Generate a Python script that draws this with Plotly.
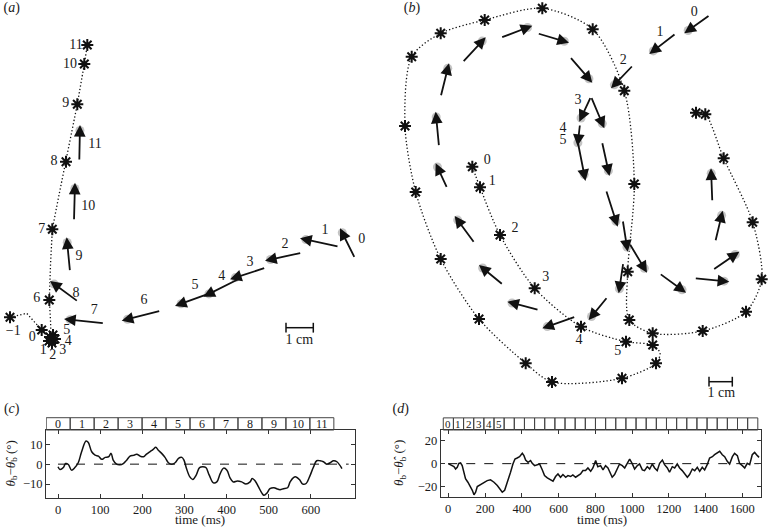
import plotly.graph_objects as go

FONT = "Liberation Serif, Times New Roman, DejaVu Serif, serif"
INK = "#111111"
TXT = "#1a1a1a"

# ---------------- panel (a) ----------------
a_path_x = [10, 26.7, 41.7, 51, 50.5, 49.3, 50.5, 52.3, 59, 66, 72, 77.3, 84.3, 87.3]
a_path_y = [317.3, 313.3, 330, 337, 320, 300, 265, 229.3, 195, 161.7, 133, 104.3, 64, 45]
a_star_x = [10, 41.7, 49, 52, 55, 53, 50, 49.3, 52.3, 66, 77.3, 84.3, 87.3]
a_star_y = [317.3, 330, 341, 343, 339, 335, 337, 300, 229.3, 161.7, 104.3, 64, 45]
a_star_lbl = ["−1", "0", "1", "2", "3", "4", "5", "6", "7", "8", "9", "10", "11"]
a_star_lbl_x = [13.3, 32.3, 43.3, 52.7, 62.7, 68.3, 66.7, 36.7, 41.7, 54, 65.7, 70, 76]
a_star_lbl_y = [331.7, 337.3, 350.7, 355, 350.7, 341, 330, 298.3, 229, 161, 103, 64, 45]
a_arr_tail_x = [355, 339, 301.7, 265.7, 240.7, 216, 160.7, 104.3, 78.3, 70, 74, 79.3]
a_arr_tail_y = [258.3, 246.7, 252.7, 267.7, 278, 291, 310.7, 323.3, 301.7, 271.7, 220.7, 161]
a_arr_head_x = [340, 300, 265, 230, 203.3, 175, 121.7, 64, 50, 66.7, 75, 80]
a_arr_head_y = [228.3, 238.3, 260.7, 279.3, 296.7, 306, 320.7, 319, 281, 237.3, 182.7, 125]
a_arr_lbl = ["0", "1", "2", "3", "4", "5", "6", "7", "8", "9", "10", "11"]
a_arr_lbl_x = [361.7, 325, 285, 250, 221.7, 195, 144, 94.3, 76, 79, 88.3, 95]
a_arr_lbl_y = [239.3, 230, 244.3, 262.3, 276, 285.7, 300.7, 310, 293.3, 256, 206.7, 144]
a_scale_x = [286, 313.3]
a_scale_y = [327.7, 327.7]
a_scale_txt = (299.3, 340.7)

# ---------------- panel (b) ----------------
b_path_x = [472.3, 480, 500, 534.7, 581, 626, 652.7, 660, 656, 622, 552, 525.7, 479, 440.7, 415.7,
            405, 411.7, 440.7, 484.7, 542.3, 592.7, 624.3, 634.3, 627.7, 629.3, 652.7, 702.7, 746,
            761.7, 752.7, 723.7, 705.3, 696]
b_path_y = [166.7, 187.3, 235, 288.3, 326.7, 341.7, 345, 353, 363.3, 378.3, 382, 363.3, 319, 259, 192,
            126, 56.7, 33.3, 20, 8.3, 29.3, 90.7, 184, 271.7, 320, 333.3, 331, 311.7,
            279.3, 222.3, 158.3, 114.3, 112.7]
b_star_x = [472.3, 480, 500, 534.7, 581, 626, 652.7, 652.7, 656, 622, 552, 525.7, 479, 440.7, 415.7,
            405, 411.7, 440.7, 484.7, 542.3, 592.7, 624.3, 634.3, 627.7, 629.3, 702.7, 746,
            761.7, 752.7, 723.7, 705.3, 696]
b_star_y = [166.7, 187.3, 235, 288.3, 326.7, 341.7, 345, 333.3, 363.3, 378.3, 382, 363.3, 319, 259, 192,
            126, 56.7, 33.3, 20, 8.3, 29.3, 90.7, 184, 271.7, 320, 331, 311.7,
            279.3, 222.3, 158.3, 114.3, 112.7]
b_star_lbl = ["0", "1", "2", "3", "4", "5"]
b_star_lbl_x = [487.3, 492.3, 515, 545.7, 579, 617.7]
b_star_lbl_y = [160, 181.7, 228.3, 277.3, 340, 351.7]
b_arr_tail_x = [710, 676, 633.3, 591, 580, 577, 591, 602, 606, 622.7, 629.3, 659.3, 694.3, 712.7, 715.3,
                712.3, 623.3, 607.7, 575.7, 539, 503.3, 474.7, 447.3, 439, 440.7, 462.3, 500.7, 537.3, 569.7]
b_arr_tail_y = [15, 33.3, 65, 96.7, 124, 138, 96.7, 141.7, 190, 220, 243.3, 273.3, 278.3, 270, 241.7,
                201.7, 262.7, 296.7, 316.7, 310, 285, 243.3, 188.3, 146.7, 96.7, 62.7, 37.7, 33.3, 56.7]
b_arr_head_x = [684.3, 649.3, 611, 579.3, 577.5, 585.5, 604.3, 609.5, 617.7, 627.7, 647, 686, 729.3, 739.3, 722.7,
                711, 618.7, 588.7, 542.3, 507.3, 479, 454.7, 435.7, 435.7, 449, 485.7, 532.3, 569, 592.3]
b_arr_head_y = [33.3, 54, 88.3, 121.7, 146, 181, 128.3, 176, 226.7, 251.7, 272.7, 292.7, 281.7, 251.7, 210.7,
                168.3, 293.3, 320, 328.3, 301.7, 265, 216, 163.3, 111.7, 63.3, 37.3, 25.7, 42.7, 82.7]
b_arr_lbl = ["0", "1", "2", "3", "4", "5"]
b_arr_lbl_x = [694.3, 660, 623.3, 578, 563, 563]
b_arr_lbl_y = [12.7, 32.7, 60, 100, 128.3, 140]
b_scale_x = [709, 732.3]
b_scale_y = [381.7, 381.7]
b_scale_txt = (721.3, 393.3)

# ---------------- panel (c) ----------------
c_t = [0, 4.7, 12.7, 18, 24.5, 32, 40, 48, 56, 66.5, 72, 80, 88, 96, 104, 112, 120, 126, 131, 139, 147,
       155, 163, 171, 179, 187, 195, 203, 210, 218, 226, 232, 238, 246, 254, 262, 270, 278, 286, 294,
       299, 305, 313, 320, 328, 336, 344, 351, 359, 369, 377, 385, 393, 401, 408, 416, 426, 436, 446,
       456, 461, 468, 476, 484, 489, 496, 503, 513, 519, 527, 535, 545, 551, 559, 565, 573, 581, 589,
       597, 606, 614, 622, 630, 638, 646, 654, 662, 674]
c_v = [-1.3, -2.7, -1.7, 0.3, -0.2, -3, -1.7, 0.7, 6.2, 11.6, 10.8, 6.2, 4.5, 4, 2.4, 3.4, 3.7, 5.4, 2,
       0, -0.3, 0.3, 2, 4, 4.4, 5, 4, 3.7, 5, 6.2, 7.4, 8.4, 7, 5.4, 3.4, 0.7, 0, 0.7, 2.9, 3.4, 2,
       -2.2, -6.4, -7.7, -5.5, -1.7, -1.3, -1.7, -5.5, -9.4, -8.9, -4.7, -2, -3, -6.7, -8.9, -8.4,
       -8.9, -10, -8.9, -7.2, -8.4, -11.4, -14.5, -15.6, -14.5, -12.3, -11.8, -12.3, -12.8, -12.3,
       -11.8, -8.9, -6.7, -6.4, -7.7, -10, -9.7, -6.4, -1.7, 1.7, 1.7, 1.2, 0, 0.7, 1.7, 1.2, -2.2]
c_box_start = -28
c_box_width = 56.9
c_box_labels = ["0", "1", "2", "3", "4", "5", "6", "7", "8", "9", "10", "11"]
c_xticks = [0, 100, 200, 300, 400, 500, 600]
c_yticks = [-10, 0, 10]

# ---------------- panel (d) ----------------
d_t = [0, 13, 31, 40, 49, 58, 67, 76, 85, 94, 107, 122, 131, 140, 149, 158, 176, 194, 212, 230, 249,
       267, 285, 294, 307, 317, 330, 339, 352, 363, 375, 388, 403, 412, 421, 434, 448, 457, 470, 484,
       497, 512, 524, 539, 557, 570, 584, 597, 611, 624, 639, 651, 666, 678, 693, 706, 720, 733, 747,
       760, 775, 787, 802, 814, 829, 842, 856, 869, 883, 892, 905, 920, 932, 947, 960, 974, 987, 1001,
       1014, 1029, 1041, 1056, 1068, 1083, 1096, 1110, 1123, 1137, 1150, 1165, 1177, 1192, 1204, 1219,
       1232, 1246, 1259, 1273, 1286, 1301, 1313, 1328, 1341, 1355, 1368, 1382, 1395, 1409, 1422, 1437,
       1449, 1464, 1477, 1491, 1504, 1518, 1531, 1546, 1558, 1573, 1585, 1600, 1613, 1627, 1640, 1654,
       1667, 1682, 1691]
d_v = [0, -0.9, -2.6, -4.6, -3.1, 0.3, 0.6, -1.7, -7.4, -13, -16, -19.7, -23, -26.9, -24.6, -19.7, -18,
       -16, -14.6, -14, -16, -18.9, -22.6, -24.6, -23, -17.4, -10.3, -7.4, -0.3, 4, 4.9, 6, 8.9, 6.9,
       3.1, 1.1, 2.6, 0.3, -1.7, -0.9, -0.3, -5.4, -10.3, -12.3, -14, -15.1, -11.1, -8.9, -11.7, -9.4,
       -11.7, -10.3, -11.1, -9.7, -11.7, -10.3, -8.9, -6, -6, -3.7, -6.6, -3.7, 2.6, -2.6, -1.7, -5.4,
       -1.7, -3.7, -8.3, -11.7, -9.4, -4.6, -0.3, -1.7, -3.7, 0.3, 4, 0, -4.6, -1.7, -0.3, -5.4, -6,
       -2.6, -4.6, -0.3, -3.7, -6, 0.3, 3.1, -0.9, -3.7, -7.4, -2.6, -3.7, -0.3, -3.7, -6, -8.9, -11.7,
       -9.4, -4.6, -6, -3.1, -6.6, -3.1, -5.4, -0.9, 4.9, 6, 7.7, 8.9, 10.6, 7.7, 6, 2, -0.3, 6, 8.9,
       6.9, 0.3, -1.7, -3.7, 0.3, -0.9, 7.7, 9.7, 6.9, 5.4]
d_box_start = -27
d_box_width = 55.2
d_box_count = 31
d_box_labels = ["0", "1", "2", "3", "4", "5"]
d_xticks = [0, 200, 400, 600, 800, 1000, 1200, 1400, 1600]
d_yticks = [-20, 0, 20]

x_title = "time (ms)"
y_title = "<i>θ</i><sub>b</sub>−<i>θ̂</i><sub>b</sub> (°)"

W, H = 768, 527
fig = go.Figure()


def dx(px):
    return px / W


def dy(py):
    return 1 - py / H


def dotted(x, y, shape="linear"):
    fig.add_trace(go.Scatter(x=x, y=y, mode="lines", xaxis="x", yaxis="y", cliponaxis=False,
                             line=dict(color=INK, width=1.3, dash="1.3px,2.2px", shape=shape,
                                       smoothing=0.8),
                             hoverinfo="skip"))


def stars(x, y):
    fig.add_trace(go.Scatter(x=x, y=y, mode="markers", xaxis="x", yaxis="y", cliponaxis=False,
                             marker=dict(symbol="asterisk-open", size=10, color=INK,
                                         line=dict(color=INK, width=2)), hoverinfo="skip"))


def texts(x, y, t, size=14):
    fig.add_trace(go.Scatter(x=x, y=y, text=t, mode="text", xaxis="x", yaxis="y", cliponaxis=False,
                             textfont=dict(family=FONT, size=size, color=TXT), hoverinfo="skip"))


def blobs(tx, ty, hx, hy):
    bx = [h + 0.15 * (t - h) for t, h in zip(tx, hx)]
    by = [h + 0.15 * (t - h) for t, h in zip(ty, hy)]
    fig.add_trace(go.Scatter(x=bx, y=by, mode="markers", xaxis="x", yaxis="y", cliponaxis=False,
                             marker=dict(size=9, color="#c4c4c4", line=dict(width=0)), hoverinfo="skip"))


annotations = []


def arrows(tx, ty, hx, hy):
    for a, b, c, d in zip(tx, ty, hx, hy):
        annotations.append(dict(x=c, y=d, ax=a, ay=b, xref="x", yref="y", axref="x", ayref="y",
                                text="", showarrow=True, arrowhead=2, arrowsize=1.3,
                                arrowwidth=1.8, arrowcolor=INK, standoff=0))


# panel a
dotted(a_path_x, a_path_y)
blobs(a_arr_tail_x, a_arr_tail_y, a_arr_head_x, a_arr_head_y)
stars(a_star_x, a_star_y)
texts(a_star_lbl_x, a_star_lbl_y, a_star_lbl)
texts(a_arr_lbl_x, a_arr_lbl_y, a_arr_lbl)
arrows(a_arr_tail_x, a_arr_tail_y, a_arr_head_x, a_arr_head_y)

# panel b
dotted(b_path_x, b_path_y, shape="spline")
blobs(b_arr_tail_x, b_arr_tail_y, b_arr_head_x, b_arr_head_y)
stars(b_star_x, b_star_y)
texts(b_star_lbl_x, b_star_lbl_y, b_star_lbl)
texts(b_arr_lbl_x, b_arr_lbl_y, b_arr_lbl)
arrows(b_arr_tail_x, b_arr_tail_y, b_arr_head_x, b_arr_head_y)

# scale bars
for sx, sy, st in [(a_scale_x, a_scale_y, a_scale_txt), (b_scale_x, b_scale_y, b_scale_txt)]:
    fig.add_trace(go.Scatter(x=sx, y=sy, mode="lines+markers", xaxis="x", yaxis="y",
                             line=dict(color=INK, width=1.5),
                             marker=dict(symbol="line-ns-open", size=7, color=INK,
                                         line=dict(color=INK, width=1.5)),
                             hoverinfo="skip"))
    texts([st[0]], [st[1]], ["1 cm"], size=14)

# panel letters
for lx, ly, lt in [(11.7, 8.3, "(<i>a</i>)"), (412, 8.3, "(<i>b</i>)"), (11.7, 409.3, "(<i>c</i>)"),
                   (400.7, 409.3, "(<i>d</i>)")]:
    texts([lx], [ly], [lt], size=14)

# panel c/d curves
fig.add_trace(go.Scatter(x=[0, 690], y=[0, 0], mode="lines", xaxis="x3", yaxis="y3",
                         line=dict(color=INK, width=1, dash="dash"), hoverinfo="skip"))
fig.add_trace(go.Scatter(x=c_t, y=c_v, mode="lines", xaxis="x3", yaxis="y3",
                         line=dict(color=INK, width=1.5, shape="spline"), hoverinfo="skip"))
fig.add_trace(go.Scatter(x=[0, 1690], y=[0, 0], mode="lines", xaxis="x4", yaxis="y4",
                         line=dict(color=INK, width=1, dash="dash"), hoverinfo="skip"))
fig.add_trace(go.Scatter(x=d_t, y=d_v, mode="lines", xaxis="x4", yaxis="y4",
                         line=dict(color=INK, width=1.5), hoverinfo="skip"))

shapes = []
strip_h = 1.18


def strip(xref, yref, start, width, count, labels, size):
    for i in range(count):
        x0 = start + i * width
        shapes.append(dict(type="rect", xref=xref, yref=yref + " domain", x0=x0, x1=x0 + width,
                           y0=1, y1=strip_h, line=dict(color="#444", width=1)))
        if i < len(labels):
            annotations.append(dict(x=x0 + width / 2, y=(1 + strip_h) / 2, xref=xref,
                                    yref=yref + " domain", text=labels[i], showarrow=False,
                                    yanchor="middle",
                                    font=dict(family=FONT, size=size, color=TXT)))


strip("x3", "y3", c_box_start, c_box_width, len(c_box_labels), c_box_labels, 12)
strip("x4", "y4", d_box_start, d_box_width, d_box_count, d_box_labels, 11)

tfont = dict(family=FONT, size=13, color=TXT)
# axis titles placed as paper annotations
for tx_, ty_ in [(200, 519.5), (602.3, 519.5)]:
    annotations.append(dict(x=dx(tx_), y=dy(ty_), xref="paper", yref="paper", text=x_title,
                            showarrow=False, xanchor="center", yanchor="middle", font=tfont))
for tx_, ty_ in [(10.5, 464), (399.5, 463.5)]:
    annotations.append(dict(x=dx(tx_), y=dy(ty_), xref="paper", yref="paper", text=y_title,
                            showarrow=False, xanchor="center", yanchor="middle", textangle=-90,
                            font=tfont))

ax_common = dict(showgrid=False, zeroline=False, showline=True, linecolor="#333", linewidth=1,
                 mirror="ticks", ticks="inside", ticklen=4, tickcolor="#333", automargin=False,
                 tickfont=dict(family=FONT, size=12.5, color=TXT))

fig.update_layout(
    template="none",
    width=W, height=H, margin=dict(l=0, r=0, t=0, b=0, pad=0), autosize=False,
    paper_bgcolor="white", plot_bgcolor="white", showlegend=False,
    font=dict(family=FONT, color=TXT),
    xaxis=dict(domain=[0, 1], range=[0, W], visible=False, fixedrange=True, automargin=False),
    yaxis=dict(domain=[0, 1], range=[H, 0], visible=False, fixedrange=True, automargin=False),
    xaxis3=dict(domain=[dx(46), dx(355)], anchor="y3", range=[-28.5, 705], tickvals=c_xticks,
                **ax_common),
    yaxis3=dict(domain=[dy(498.3), dy(430)], anchor="x3", range=[-17.1, 17.1], tickvals=c_yticks,
                **ax_common),
    xaxis4=dict(domain=[dx(440.7), dx(760.7)], anchor="y4", range=[-41, 1700], tickvals=d_xticks,
                **ax_common),
    yaxis4=dict(domain=[dy(497.3), dy(430)], anchor="x4", range=[-29, 29], tickvals=d_yticks,
                **ax_common),
    shapes=shapes, annotations=annotations,
)

fig.write_html("out.html", config={"displayModeBar": False},
               post_script="document.body.style.margin='0px';document.body.style.padding='0px';")
